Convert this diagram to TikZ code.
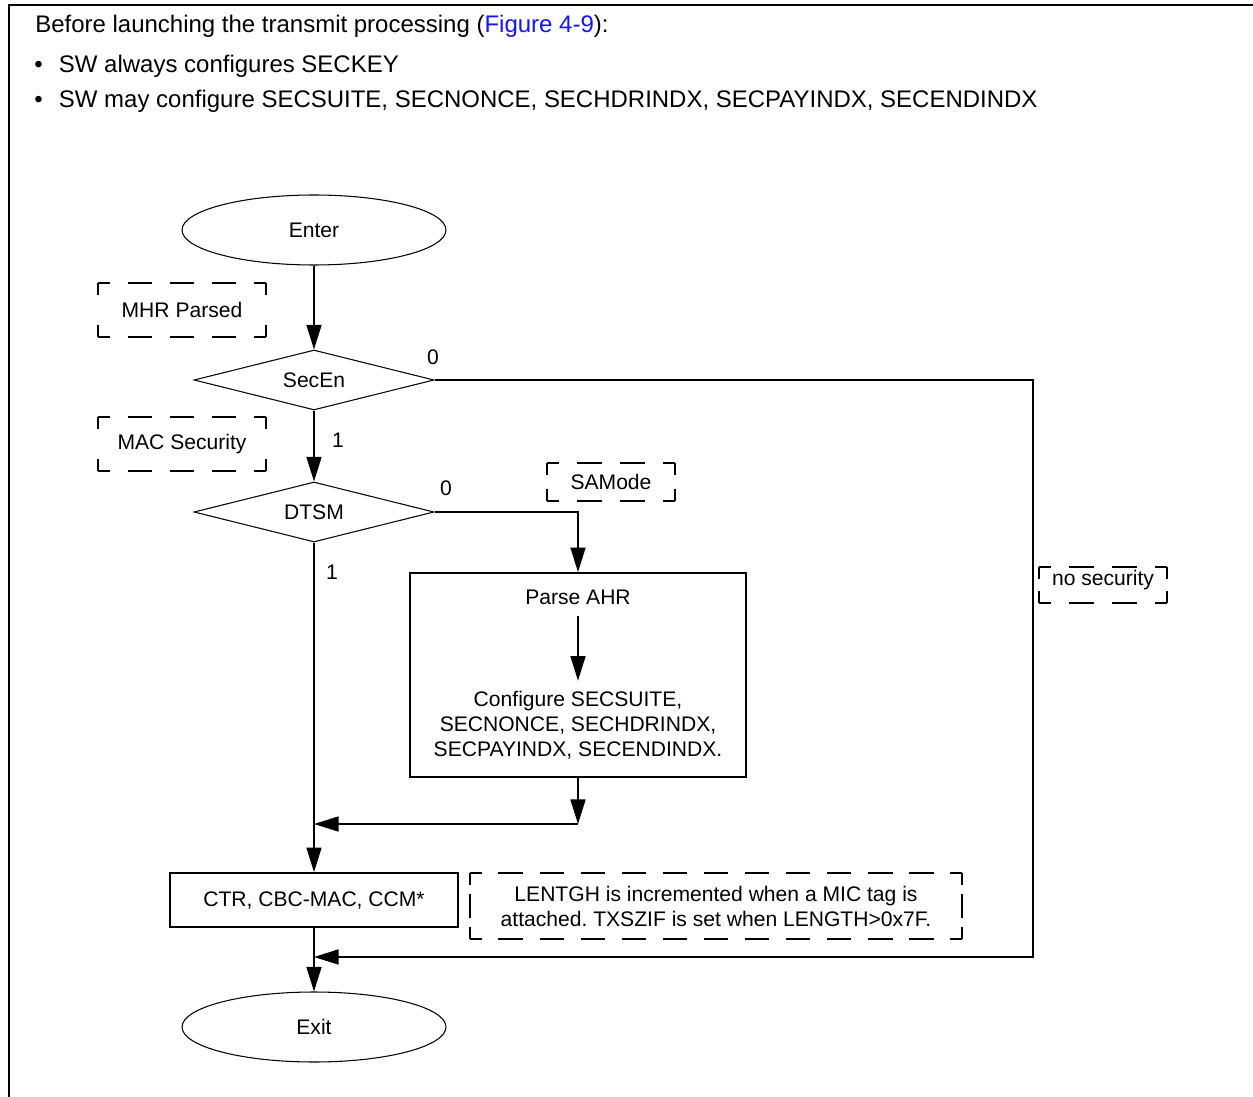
\documentclass[tikz,border=0pt]{standalone}
\usepackage{fontspec}
\setmainfont{Liberation Sans}
\usetikzlibrary{shapes.geometric,arrows.meta,calc}
\definecolor{figblue}{RGB}{20,20,255}
% one side of a dashed note, with a half dash at each corner
\newcommand\dashside[2]{\draw[line width=1.1pt] let \p1=($(#2)-(#1)$), \n1={veclen(\x1,\y1)},
  \n2={max(1,round(\n1/24))}, \n3={\n1/\n2-14} in [dash pattern=on 14pt off \n3, dash phase=7pt] (#1) -- (#2);}
\begin{document}
\frenchspacing
\begin{tikzpicture}[x=0.02cm, y=-0.02cm,
    font=\fontsize{12}{14.2}\selectfont,
    flow/.style={line width=1.1pt, -{Triangle[length=14pt, width=8.5pt]}},
    termbox/.style={ellipse, draw, line width=0.6pt, inner sep=0pt, minimum width=5.28cm, minimum height=1.4cm},
    testbox/.style={diamond, draw, line width=0.6pt, inner sep=0pt, aspect=4, minimum width=4.8cm, minimum height=1.2cm},
    procbox/.style={rectangle, draw, line width=1pt, inner sep=0pt},
    notebox/.style={rectangle, inner sep=0pt, align=center},
    introtext/.style={anchor=base west, inner sep=0pt, font=\fontsize{13.65}{16}\selectfont},
    bitlabel/.style={inner sep=0pt}]
  \useasboundingbox (0,0) rectangle (1253,1097);
  \draw[line width=1.2pt] (9,1097) -- (9,5) -- (1253,5);
  % header text
  \node[introtext] (intro) at (35,33)
    {Before launching the transmit processing (\textcolor{figblue}{Figure 4-9}):};
  \node[introtext] (item1) at (34,73)
    {\makebox[14pt][l]{•}SW always configures SECKEY};
  \node[introtext] (item2) at (34,108)
    {\makebox[14pt][l]{•}SW may configure SECSUITE, SECNONCE, SECHDRINDX, SECPAYINDX, SECENDINDX};

  \node[termbox] (enter) at (314,230) {Enter};
  \node[notebox, minimum width=3.36cm, minimum height=1.08cm] (mhr) at (182,310) {MHR Parsed};
  \node[testbox] (secen) at (314,380) {SecEn};
  \node[notebox, minimum width=3.36cm, minimum height=1.08cm] (macsec) at (182,444) {MAC Security};
  \node[testbox] (dtsm) at (314,512) {DTSM};
  \node[notebox, minimum width=2.54cm, minimum height=0.74cm] (samode) at (611,482) {SAMode};
  \node[procbox, minimum width=6.72cm, minimum height=4.08cm] (parse) at (578,675) {};
  \node[inner sep=0pt] (ptitle) at (578,597) {Parse AHR};
  \node[inner sep=0pt, align=center] (pconf) at (578,725)
    {Configure SECSUITE,\\SECNONCE, SECHDRINDX,\\SECPAYINDX, SECENDINDX.};
  \node[procbox, minimum width=5.76cm, minimum height=1.08cm] (ctr) at (314,900) {CTR, CBC-MAC, CCM*};
  \node[notebox, minimum width=9.84cm, minimum height=1.32cm] (lenote) at (716,906)
    {LENTGH is incremented when a MIC tag is\\attached. TXSZIF is set when LENGTH>0x7F.};
  \node[notebox, minimum width=2.54cm, minimum height=0.72cm, text height=0.25cm, text depth=0.25cm] (nosec) at (1103,585) {no security};
  \node[termbox] (exit) at (314,1027) {Exit};

  \foreach \boxname in {mhr,macsec,samode,lenote,nosec}{
    \dashside{\boxname.north west}{\boxname.north east}
    \dashside{\boxname.north east}{\boxname.south east}
    \dashside{\boxname.south east}{\boxname.south west}
    \dashside{\boxname.south west}{\boxname.north west}
  }

  \node[bitlabel] (secen0) at (433,357) {0};
  \node[bitlabel] (secen1) at (338,440) {1};
  \node[bitlabel] (dtsm0) at (446,488) {0};
  \node[bitlabel] (dtsm1) at (332,572) {1};

  \coordinate (rtop) at (1033,380);
  \coordinate (jexit) at (314,957);
  \coordinate (pout) at (578,824);
  \coordinate (jctr) at (314,824);

  \draw[flow] (enter) -- (secen);
  \draw[flow] (secen) -- (dtsm);
  \draw[flow] (secen.east) -- (rtop) |- (jexit);
  \draw[flow] (dtsm.east) -| (parse.north);
  \draw[flow, shorten <=0.22cm, shorten >=0.2cm] (ptitle) -- (pconf);
  \draw[flow] (parse.south) -- (pout);
  \draw[flow] (pout) -- (jctr);
  \draw[flow] (dtsm) -- (ctr);
  \draw[flow] (ctr) -- (exit);
\end{tikzpicture}
\end{document}
